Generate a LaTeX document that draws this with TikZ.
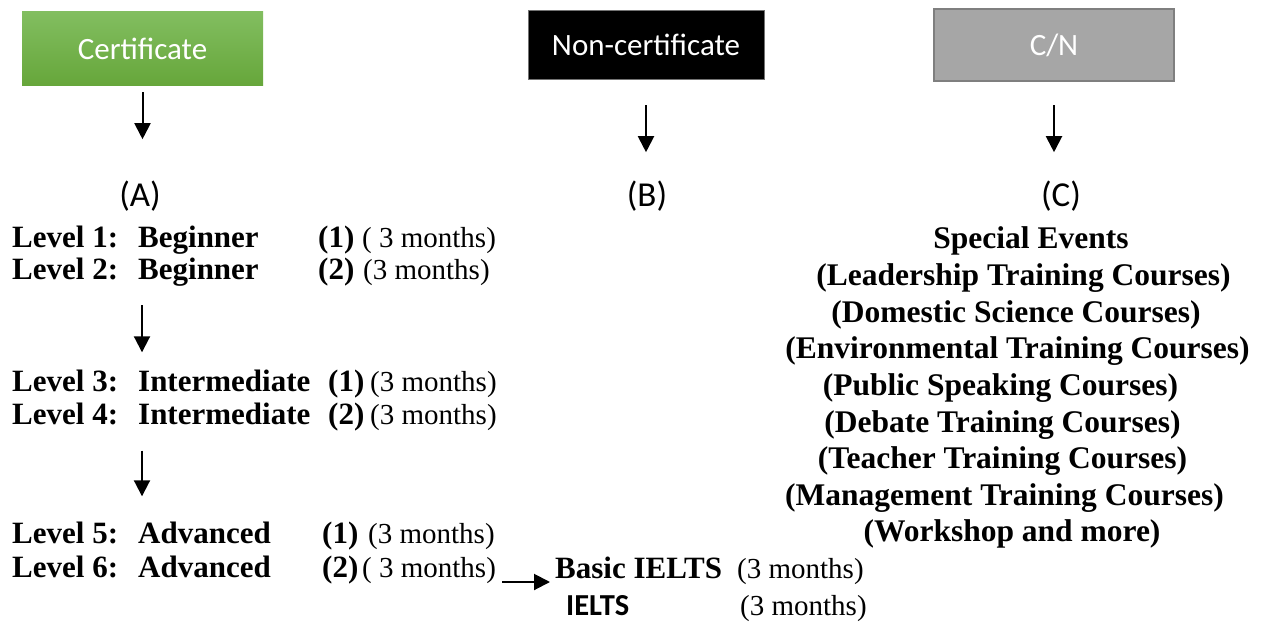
\documentclass[tikz,border=0pt]{standalone}
\usepackage{fontspec}
\setmainfont{Liberation Serif}
\newfontfamily\calfont{Carlito}
\newfontfamily\tnrfont{Liberation Serif}
\usetikzlibrary{arrows.meta}
\definecolor{gtop}{RGB}{130,190,96}
\definecolor{gbot}{RGB}{102,166,58}
\definecolor{cngray}{RGB}{166,166,166}
\definecolor{cnedge}{RGB}{127,127,127}
\begin{document}
\begin{tikzpicture}[x=1pt,y=-1pt,
  boxtext/.style={font=\calfont\fontsize{31}{36}\selectfont, text=white, inner sep=0pt},
  lab/.style={font=\calfont\fontsize{35}{40}\selectfont, inner sep=0pt, anchor=base},
  bt/.style={font=\tnrfont\bfseries\fontsize{31}{36}\selectfont, inner sep=0pt, anchor=base west},
  rt/.style={font=\tnrfont\fontsize{29}{34}\selectfont, inner sep=0pt, anchor=base west},
  ct/.style={font=\tnrfont\bfseries\fontsize{31.5}{36}\selectfont, inner sep=0pt, anchor=base},
  arr/.style={line width=2pt, -{Triangle[width=16pt,length=16pt]}}]
\fill[white] (0,0) rectangle (1265,623);
\useasboundingbox (0,0) rectangle (1265,623);

% top boxes
\node[boxtext, minimum width=241pt, minimum height=74pt, top color=gtop, bottom color=gbot] (cert) at (142.5,49) {Certificate};
\node[boxtext, fill=black, draw=black!55, line width=0.8pt, minimum width=236pt, minimum height=69pt] (ncert) at (646,44.5) {Non-certificate};
\node[boxtext, fill=cngray, draw=cnedge, line width=2.5pt, minimum width=240pt, minimum height=72pt] (cn) at (1054,45) {C/N};

% labels
\node[lab] (A) at (140,206) {(A)};
\node[lab] (B) at (647,206) {(B)};
\node[lab] (C) at (1061,206) {(C)};

\draw[arr, shorten <=6pt, shorten >=41pt] (cert.south) -- (cert.south |- A.north);
\draw[arr, shorten <=26pt, shorten >=28pt] (ncert.south) -- (ncert.south |- B.north);
\draw[arr, shorten <=23pt, shorten >=28pt] (cn.south) -- (cn.south |- C.north);

% left column
\coordinate (acol) at (142,0);
\node[bt] (l1) at (12,247) {Level 1:};
\node[bt] (b1) at (138,247) {Beginner};
\node[bt] (n1) at (318,247) {(1)};
\node[rt] (m1) at (362,247) {( 3 months)};

\node[bt] (l2) at (12,279) {Level 2:};
\node[bt] (b2) at (138,279) {Beginner};
\node[bt] (n2) at (318,279) {(2)};
\node[rt] (m2) at (363,279) {(3 months)};

\node[bt] (l3) at (12,391) {Level 3:};
\node[bt] (i3) at (138,391) {Intermediate};
\node[bt] (n3) at (328,391) {(1)};
\node[rt] (m3) at (370,391) {(3 months)};

\node[bt] (l4) at (12,424) {Level 4:};
\node[bt] (i4) at (138,424) {Intermediate};
\node[bt] (n4) at (328,424) {(2)};
\node[rt] (m4) at (370,424) {(3 months)};

\node[bt] (l5) at (12,543) {Level 5:};
\node[bt] (a5) at (138,543) {Advanced};
\node[bt] (n5) at (322,543) {(1)};
\node[rt] (m5) at (368,543) {(3 months)};

\node[bt] (l6) at (12,577) {Level 6:};
\node[bt] (a6) at (138,577) {Advanced};
\node[bt] (n6) at (322,577) {(2)};
\node[rt] (m6) at (362,577) {( 3 months)};

\draw[arr, shorten <=19pt, shorten >=17pt] (b2.south -| acol) -- (i3.north -| acol);
\draw[arr, shorten <=26pt, shorten >=25pt] (i4.south -| acol) -- (a5.north -| acol);

% IELTS
\node[bt] (basic) at (555,578) {Basic IELTS};
\node[rt] (bm) at (737,578) {(3 months)};
\node[font=\calfont\bfseries\fontsize{30.5}{35}\selectfont, inner sep=0pt, anchor=base west] (ielts) at (566,615) {IELTS};
\node[rt] (im) at (740,615) {(3 months)};
\coordinate (r6) at (502,582);
\draw[arr, shorten >=5pt] (r6) -- (basic.west |- r6);

% right column
\node[ct] (c1) at (1031,248) {Special Events};
\node[ct] (c2) at (1023.5,285) {(Leadership Training Courses)};
\node[ct] (c3) at (1016,322) {(Domestic Science Courses)};
\node[ct] (c4) at (1017.5,358) {(Environmental Training Courses)};
\node[ct] (c5) at (1000.5,395) {(Public Speaking Courses)};
\node[ct] (c6) at (1002.5,432) {(Debate Training Courses)};
\node[ct] (c7) at (1002.5,468) {(Teacher Training Courses)};
\node[ct] (c8) at (1004.5,505) {(Management Training Courses)};
\node[ct] (c9) at (1012,541) {(Workshop and more)};
\end{tikzpicture}
\end{document}
